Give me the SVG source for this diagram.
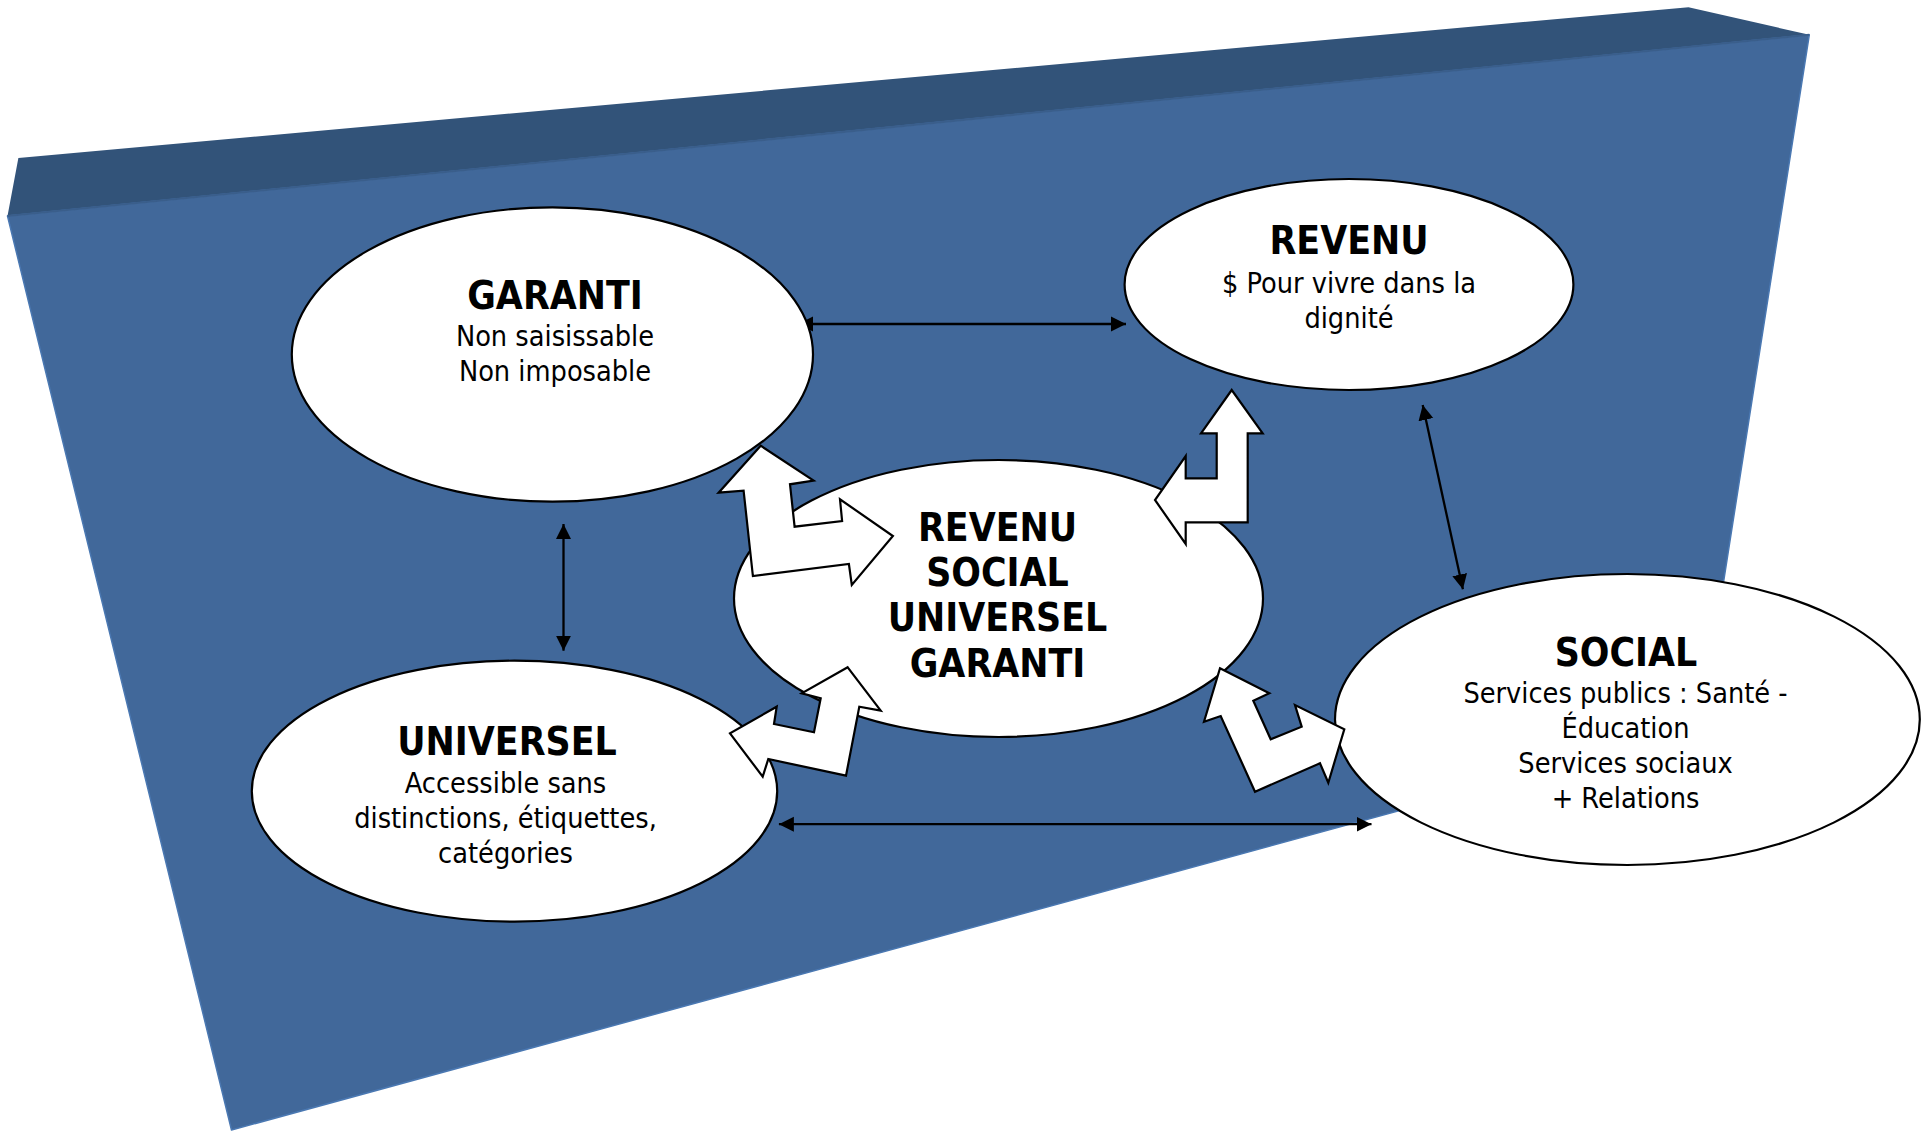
<svg xmlns="http://www.w3.org/2000/svg" width="1923" height="1133" viewBox="0 0 1923 1133">
<defs>
<style>
.node{fill:#ffffff;stroke:#000000;stroke-width:2.2}
.blk{fill:#ffffff;stroke:#000000;stroke-width:2.2;stroke-linejoin:miter}
.conn{stroke:#000000;stroke-width:2.3;fill:none;marker-start:url(#ah);marker-end:url(#ah)}
text{font-family:"DejaVu Sans Condensed","DejaVu Sans",sans-serif;font-stretch:condensed;text-anchor:middle;fill:#000000}
.t{font-weight:bold;font-size:38.8px}
.b{font-size:28.6px}
</style>
<marker id="ah" markerUnits="userSpaceOnUse" markerWidth="16" markerHeight="16" viewBox="0 0 16 16" refX="15" refY="8" orient="auto-start-reverse">
<path d="M0,0.5 L15,8 L0,15.5 z" fill="#000000"/>
</marker>
</defs>
<rect width="1923" height="1133" fill="#ffffff"/>
<g id="background">
<polygon points="18.4,158 1688.5,7.2 1809.3,34.8 7.5,216" fill="#325379"/>
<polygon points="7.5,216 1809.3,34.8 1700.6,728.3 231.5,1130" fill="#41689A" stroke="#4A78B2" stroke-width="1.5" stroke-linejoin="round"/>
<line x1="7.5" y1="216" x2="1809.3" y2="34.8" stroke="#3A5E8B" stroke-width="2"/>
</g>
<g id="connectors">
<line class="conn" x1="798" y1="324" x2="1126" y2="324"/>
<line class="conn" x1="563.5" y1="524" x2="563.5" y2="650.7"/>
<line class="conn" x1="1422.7" y1="405" x2="1462.9" y2="589.3"/>
<line class="conn" x1="778.9" y1="824.2" x2="1371.5" y2="824.2"/>
</g>
<g id="garanti">
<ellipse class="node" cx="552.4" cy="354.5" rx="260.6" ry="147.2"/>
<text class="t" x="555" y="308.5">GARANTI</text>
<text class="b" x="555" y="345.5">Non saisissable</text>
<text class="b" x="555" y="381">Non imposable</text>
</g>
<g id="revenu">
<ellipse class="node" cx="1349" cy="284.5" rx="224.4" ry="105.5"/>
<text class="t" x="1349" y="254">REVENU</text>
<text class="b" x="1349" y="292.5">$ Pour vivre dans la</text>
<text class="b" x="1349" y="328">dignité</text>
</g>
<g id="universel">
<ellipse class="node" cx="514.5" cy="791.2" rx="262.7" ry="130.5"/>
<text class="t" x="507" y="755">UNIVERSEL</text>
<text class="b" x="505.5" y="792.7">Accessible sans</text>
<text class="b" x="505.5" y="828.3">distinctions, étiquettes,</text>
<text class="b" x="505.5" y="863">catégories</text>
</g>
<g id="social">
<ellipse class="node" cx="1627.4" cy="719.5" rx="292.4" ry="145.5"/>
<text class="t" x="1626" y="666">SOCIAL</text>
<text class="b" x="1625.5" y="702.7">Services publics : Santé -</text>
<text class="b" x="1625.5" y="738.3">Éducation</text>
<text class="b" x="1625.5" y="773.3">Services sociaux</text>
<text class="b" x="1625.5" y="808.3">+ Relations</text>
</g>
<g id="centre">
<ellipse class="node" cx="998.5" cy="598.5" rx="264.5" ry="138.5"/>
<text class="t" x="997.5" y="541">REVENU</text>
<text class="t" x="997.5" y="585.5">SOCIAL</text>
<text class="t" x="997.5" y="630.5">UNIVERSEL</text>
<text class="t" x="997.5" y="676.5">GARANTI</text>
</g>
<g id="arrow-garanti">
<polygon class="blk" points="760.7,445.7 813.6,480.7 790,484.3 794.6,526.7 842.1,521 840,499.3 892.9,536 851.8,585 848.9,564 752.9,576 743.6,490.7 718.6,492.7"/>
</g>
<g id="arrow-revenu">
<polygon class="blk" points="1231.7,390 1262.7,433.3 1247.7,433.3 1247.7,522.3 1185.7,522.3 1185.7,544 1155,500 1185.7,456 1185.7,478.3 1216.7,478.3 1216.7,433.3 1201,433.3"/>
</g>
<g id="arrow-universel">
<polygon class="blk" points="847.7,667.3 880.7,710.7 859.3,706.7 846,775.7 768.3,759 762.7,776.7 730,733.3 776.7,706.7 774,724 814,732.3 820.7,698.3 801.7,693.3"/>
</g>
<g id="arrow-social">
<polygon class="blk" points="1220,668.3 1269.3,693.3 1253.3,700.7 1270.7,739.3 1301.7,726.7 1295,705 1344.3,729.3 1328.3,782.7 1320,763.3 1255,791.7 1220.7,716 1204,721.7"/>
</g>
</svg>
